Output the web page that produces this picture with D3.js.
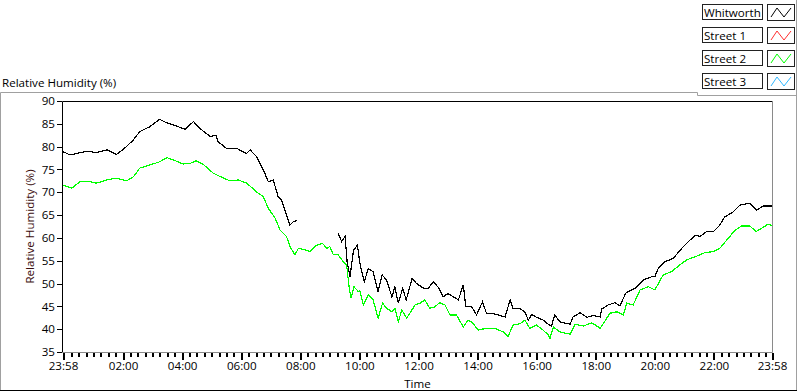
<!DOCTYPE html>
<html>
<head>
<meta charset="utf-8">
<script src="https://cdn.jsdelivr.net/npm/d3@7"></script>
<style>
html, body { margin: 0; padding: 0; background: #fff; }
svg { display: block; font-family: "Open Sans", sans-serif; font-size: 11.6px; }
</style>
</head>
<body>
<svg id="chart" width="800" height="392"></svg>
<script>
// Whitworth (black). null = gap in the record.
let whitworthTimes = ["23:58","00:12","00:26","00:46","01:06","01:27","01:47","02:07","02:21","02:34",
    "02:55","03:14","03:29","03:49","04:06","04:23","04:36","04:57","05:09","05:13",
    "05:30","05:51","06:11","06:18","06:31","06:45","06:55","07:05","07:15","07:22",
    "07:32","07:39","07:46","07:53","08:30","09:17","09:24","09:31","09:35","09:41",
    "09:48","09:56","10:01","10:10","10:18","10:28","10:38","10:46","10:55","11:06",
    "11:12","11:19","11:28","11:35","11:47","11:56","12:10","12:20","12:30","12:40",
    "12:50","13:00","13:11","13:21","13:31","13:36","13:48","13:58","14:10","14:18",
    "14:29","14:42","14:56","15:06","15:12","15:26","15:36","15:43","15:50","16:00",
    "16:13","16:26","16:30","16:37","16:47","17:08","17:14","17:28","17:42","17:55",
    "18:09","18:12","18:25","18:39","18:49","19:01","19:20","19:37","19:54","20:00",
    "20:07","20:21","20:37","20:58","21:22","21:32","21:45","21:59","22:12","22:22",
    "22:39","22:53","23:13","23:27","23:40","23:58"];
let whitworthValues = [78.9,78.2,78.5,79.0,78.7,79.3,78.3,80.0,81.5,83.3,
    84.4,86.0,85.2,84.5,83.8,85.5,84.0,82.2,82.5,81.1,
    79.6,79.6,78.5,79.3,77.8,74.9,72.3,72.7,69.0,68.3,
    65.0,62.8,63.6,63.8,null,61.0,59.2,60.3,54.8,51.5,
    57.3,58.4,54.4,50.4,53.3,52.6,48.2,51.9,50.8,47.1,
    49.2,45.7,49.0,46.4,51.1,50.0,49.0,49.0,50.4,49.2,
    47.1,47.8,47.1,46.4,49.7,44.9,44.9,43.1,46.0,43.5,
    43.5,43.1,42.7,46.4,44.6,44.5,43.8,42.0,43.2,42.6,
    42.0,40.9,40.7,43.1,41.6,41.1,42.7,43.6,42.6,43.0,
    42.7,44.4,45.3,45.8,45.1,47.9,49.0,50.8,51.5,51.5,
    53.3,54.8,55.5,58.1,60.6,60.3,61.4,61.4,62.8,64.6,
    65.7,67.2,67.6,66.1,67.0,67.0];

// Street 2 (green)
let street2Times = ["23:58","00:16","00:32","00:53","01:06","01:27","01:47","02:07","02:21","02:34",
    "02:55","03:15","03:29","03:42","04:02","04:16","04:28","04:43","05:03","05:24",
    "05:37","05:54","06:11","06:31","06:45","06:55","07:09","07:19","07:32","07:39",
    "07:49","07:56","08:09","08:20","08:33","08:45","08:54","09:00","09:07","09:17",
    "09:27","09:34","09:39","09:43","09:49","09:58","10:01","10:08","10:18","10:28",
    "10:38","10:47","10:55","11:06","11:12","11:19","11:26","11:36","11:53","12:03",
    "12:13","12:23","12:33","12:43","12:54","13:04","13:17","13:31","13:41","13:51",
    "14:01","14:18","14:35","14:52","15:02","15:12","15:26","15:36","15:46","16:00",
    "16:13","16:24","16:27","16:34","16:47","17:08","17:18","17:35","17:52","18:09",
    "18:29","18:43","18:56","19:03","19:16","19:30","19:47","20:00","20:17","20:34",
    "20:51","21:05","21:25","21:42","21:59","22:12","22:29","22:43","22:56","23:13",
    "23:26","23:37","23:50","23:58"];
let street2Values = [71.6,70.9,72.3,72.3,72.0,72.7,73.1,72.5,73.4,75.3,
    76.0,76.7,77.6,77.1,76.2,76.3,76.9,76.1,74.2,73.1,
    72.5,72.7,72.0,70.1,69.0,66.5,64.3,61.7,60.3,58.1,
    56.3,57.7,57.4,57.0,58.4,58.8,57.7,58.1,56.3,56.3,
    54.8,54.1,49.3,46.8,49.3,48.2,48.4,45.3,47.5,46.4,
    42.4,45.7,44.6,43.8,44.6,41.6,44.2,42.4,45.3,45.7,
    46.4,44.6,44.9,45.8,45.3,43.1,43.1,40.5,42.0,41.3,
    39.8,40.2,40.2,39.4,38.4,40.9,41.2,42.0,40.2,40.9,
    39.8,38.7,38.0,40.5,39.4,38.9,41.1,40.7,41.4,40.2,
    43.5,43.8,43.1,45.7,45.3,48.6,49.3,48.6,51.9,52.6,
    54.1,55.2,56.0,56.8,57.0,57.7,59.9,61.7,62.6,62.6,
    61.4,62.1,63.0,62.7];

let legendNames = ["Whitworth", "Street 1", "Street 2", "Street 3"];
let legendColors = ["#000000", "#ff3030", "#00ff00", "#30b8ff"];
let yTickValues = [35, 40, 45, 50, 55, 60, 65, 70, 75, 80, 85, 90];
let xTickLabels = ["23:58","02:00","04:00","06:00","08:00","10:00","12:00",
    "14:00","16:00","18:00","20:00","22:00","23:58"];

// First 23:58 belongs to the previous day, everything else to the next.
function toDate(str, i) {
    let [h, m] = str.split(":").map(Number);
    return new Date(2000, 0, i === 0 ? 1 : 2, h, m);
}

let plot = { left: 63, right: 772, top: 101, bottom: 352 };
let svg = d3.select("#chart");

let x = d3.scaleTime()
    .domain([toDate("23:58", 0), toDate("23:58", 1)])
    .range([plot.left, plot.right]);
let y = d3.scaleLinear()
    .domain([35, 90])
    .range([plot.bottom, plot.top]);

// Outer panel frame
svg.append("path")
    .attr("d", "M0.5,391 V92.5 H697.5 V95.5 H796.5")
    .attr("fill", "none").attr("stroke", "#a0a0a0");
svg.append("line")
    .attr("x1", 796.5).attr("x2", 796.5).attr("y1", 0).attr("y2", 391)
    .attr("stroke", "#a0a0a0");
svg.append("line")
    .attr("x1", 0).attr("x2", 797).attr("y1", 390.5).attr("y2", 390.5)
    .attr("stroke", "#000");

// Title above the panel
svg.append("text")
    .attr("x", 2).attr("y", 87)
    .text("Relative Humidity (%)");

// Plot area border: dark top/left, grey bottom/right
svg.append("path")
    .attr("d", `M${plot.left - 0.5},${plot.bottom} V${plot.top + 0.5} H${plot.right}`)
    .attr("fill", "none").attr("stroke", "#000");
svg.append("path")
    .attr("d", `M${plot.left - 1},${plot.bottom + 0.5} H${plot.right + 0.5} V${plot.top}`)
    .attr("fill", "none").attr("stroke", "#8a8a8a");

// Y axis
let yAxis = svg.append("g")
    .attr("transform", `translate(${plot.left - 1},0)`)
    .call(d3.axisLeft(y).tickValues(yTickValues).tickSize(5).tickPadding(2));
yAxis.select(".domain").remove();
yAxis.selectAll("line").attr("shape-rendering", "crispEdges");
yAxis.selectAll("text").attr("font-family", "Open Sans").attr("font-size", 11.6).attr("fill", "#000");

// X axis: majors every 2 h plus the ends, minors every 15 min
let majorDates = xTickLabels.map((s, i) => toDate(s, i === 0 ? 0 : 1));
let minorDates = d3.timeMinute.every(15).range(toDate("00:00", 1), toDate("23:58", 1))
    .filter(d => d.getMinutes() !== 0 || d.getHours() % 2 !== 0);

let xMinor = svg.append("g")
    .attr("transform", `translate(0,${plot.bottom + 1})`)
    .call(d3.axisBottom(x).tickValues(minorDates).tickSize(4).tickFormat(""));
xMinor.select(".domain").remove();
xMinor.selectAll("line").attr("stroke-width", 2).attr("shape-rendering", "crispEdges");

let xAxis = svg.append("g")
    .attr("transform", `translate(0,${plot.bottom + 1})`)
    .call(d3.axisBottom(x).tickValues(majorDates).tickSize(7).tickPadding(2)
        .tickFormat((d, i) => xTickLabels[i]));
xAxis.select(".domain").remove();
xAxis.selectAll("line").attr("stroke-width", 2).attr("shape-rendering", "crispEdges");
xAxis.selectAll("text").attr("font-family", "Open Sans").attr("font-size", 11.6).attr("fill", "#000");

// Axis titles
svg.append("text")
    .attr("x", (plot.left + plot.right) / 2).attr("y", 388)
    .attr("text-anchor", "middle")
    .text("Time");
svg.append("text")
    .attr("transform", `translate(34,${(plot.top + plot.bottom) / 2}) rotate(-90)`)
    .attr("text-anchor", "middle")
    .attr("fill", "#3a0c0c")
    .text("Relative Humidity (%)");

// Lines, drawn aliased like the original plot
let line = d3.line()
    .defined(d => d.v !== null)
    .x(d => x(d.t))
    .y(d => y(d.v));

let whitworth = whitworthTimes.map((s, i) => ({ t: toDate(s, i), v: whitworthValues[i] }));
let street2 = street2Times.map((s, i) => ({ t: toDate(s, i), v: street2Values[i] }));

svg.append("path")
    .datum(street2)
    .attr("d", line)
    .attr("fill", "none")
    .attr("stroke", legendColors[2])
    .attr("stroke-width", 1.2)
    .attr("shape-rendering", "crispEdges");
svg.append("path")
    .datum(whitworth)
    .attr("d", line)
    .attr("fill", "none")
    .attr("stroke", legendColors[0])
    .attr("stroke-width", 1.2)
    .attr("shape-rendering", "crispEdges");

// Legend
let legend = svg.append("g")
    .selectAll("g")
    .data(legendNames)
    .enter()
    .append("g")
    .attr("transform", (d, i) => `translate(0,${4 + i * 23})`);
legend.append("rect")
    .attr("x", 702.5).attr("y", 0.5).attr("width", 60).attr("height", 15)
    .attr("fill", "#fff").attr("stroke", "#222");
legend.append("text")
    .attr("x", 704).attr("y", 12.5)
    .text(d => d);
legend.append("rect")
    .attr("x", 767.5).attr("y", 0.5).attr("width", 27).attr("height", 16)
    .attr("fill", "#fff").attr("stroke", "#222");
legend.append("polyline")
    .attr("points", "771,13 777,4 784,13 791,4")
    .attr("fill", "none")
    .attr("stroke", (d, i) => legendColors[i]);
</script>
</body>
</html>
